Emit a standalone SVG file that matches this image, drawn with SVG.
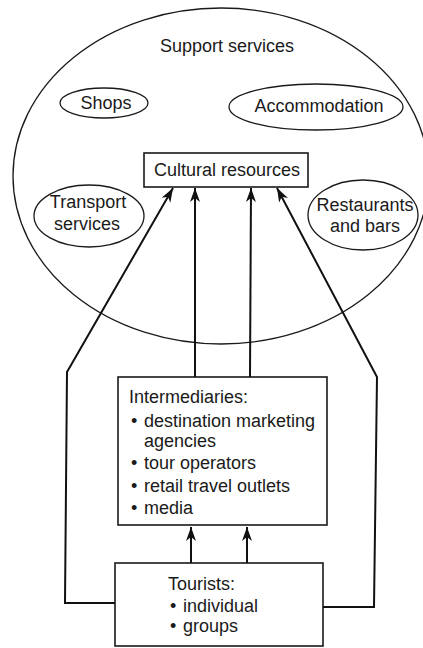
<svg xmlns="http://www.w3.org/2000/svg" width="423" height="648" viewBox="0 0 423 648">
<style>
  text { font-family: "Liberation Sans", Arial, sans-serif; font-size: 18px; fill: #1a1a1a; }
  .c { text-anchor: middle; }
  .shape { fill: none; stroke: #1a1a1a; stroke-width: 1.3; }
  .box { fill: #fff; stroke: #1a1a1a; stroke-width: 1.6; }
  .conn { fill: none; stroke: #111; stroke-width: 2; stroke-linejoin: miter; }
</style>
<defs>
  <marker id="ah" markerUnits="userSpaceOnUse" markerWidth="16" markerHeight="12" refX="14" refY="5" orient="auto" viewBox="0 0 16 10">
    <path d="M0,0 L14,5 L0,10 L4,5 z" fill="#111"/>
  </marker>
</defs>
<rect width="423" height="648" fill="#fff"/>

<g id="support-services">
  <ellipse class="shape" cx="221" cy="176" rx="208" ry="168"/>
  <text class="c" x="227" y="52">Support services</text>
</g>

<g id="shops">
  <ellipse class="shape" cx="104" cy="103" rx="44" ry="15"/>
  <text class="c" x="106" y="109">Shops</text>
</g>

<g id="accommodation">
  <ellipse class="shape" cx="316" cy="107" rx="87" ry="23"/>
  <text class="c" x="319" y="112">Accommodation</text>
</g>

<g id="transport">
  <ellipse class="shape" cx="89" cy="216" rx="55" ry="31"/>
  <text class="c" x="88" y="208">Transport</text>
  <text class="c" x="87" y="230">services</text>
</g>

<g id="restaurants">
  <ellipse class="shape" cx="363" cy="215" rx="55" ry="35"/>
  <text class="c" x="365" y="211">Restaurants</text>
  <text class="c" x="365" y="232">and bars</text>
</g>

<g id="cultural-resources">
  <rect class="box" x="144" y="153" width="164" height="34"/>
  <text class="c" x="227" y="176">Cultural resources</text>
</g>

<g id="intermediaries">
  <rect class="box" x="118" y="377" width="209" height="148"/>
  <text x="129" y="403">Intermediaries:</text>
  <text y="427"><tspan x="131">•</tspan><tspan x="144">destination marketing</tspan></text>
  <text x="144" y="447">agencies</text>
  <text y="469"><tspan x="131">•</tspan><tspan x="144">tour operators</tspan></text>
  <text y="492"><tspan x="131">•</tspan><tspan x="144">retail travel outlets</tspan></text>
  <text y="514"><tspan x="131">•</tspan><tspan x="144">media</tspan></text>
</g>

<g id="tourists">
  <rect class="box" x="115" y="563" width="208" height="83"/>
  <text x="168" y="590">Tourists:</text>
  <text y="612"><tspan x="170">•</tspan><tspan x="183">individual</tspan></text>
  <text y="632"><tspan x="170">•</tspan><tspan x="183">groups</tspan></text>
</g>

<g id="connectors">
  <path class="conn" d="M115,603 L65,603 L67,372 L173,188" marker-end="url(#ah)"/>
  <path class="conn" d="M195,377 L195,188" marker-end="url(#ah)"/>
  <path class="conn" d="M250,377 L251,188" marker-end="url(#ah)"/>
  <path class="conn" d="M323,607 L374,607 L377,377 L277,188" marker-end="url(#ah)"/>
  <path class="conn" d="M191,563 L191,527" marker-end="url(#ah)"/>
  <path class="conn" d="M247,563 L247,527" marker-end="url(#ah)"/>
</g>
</svg>
